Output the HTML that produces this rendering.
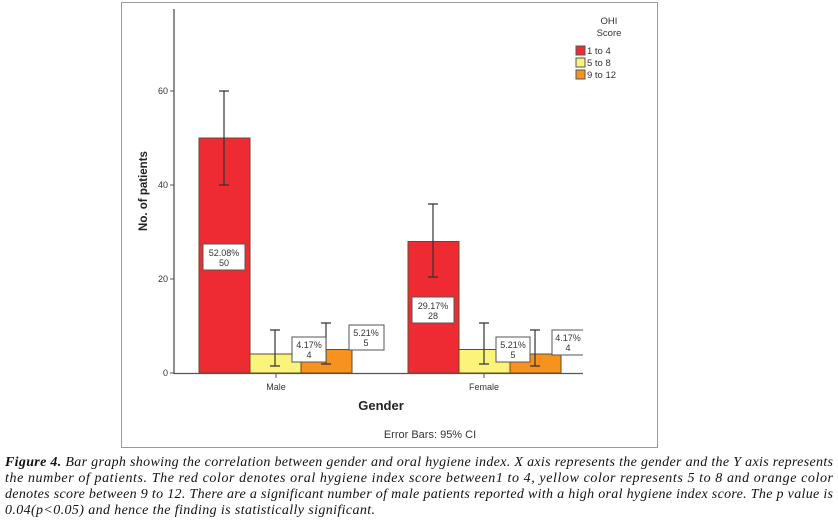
<!DOCTYPE html>
<html><head><style>
body{margin:0;background:#fff;width:838px;height:521px;overflow:hidden;position:relative;font-family:"Liberation Sans",sans-serif}
</style></head><body>
<svg width="838" height="521" style="position:absolute;left:0;top:0" font-family="Liberation Sans, sans-serif">
<rect x="121.5" y="2.5" width="536" height="445" fill="#fff" stroke="#999"/>
<line x1="174" y1="9" x2="174" y2="374" stroke="#555" stroke-width="1.3"/>
<line x1="174" y1="373.5" x2="583" y2="373.5" stroke="#555" stroke-width="1.3"/>
<g font-size="9" fill="#333" text-anchor="end">
<text x="168" y="94">60</text><text x="168" y="188">40</text><text x="168" y="282">20</text><text x="168" y="376">0</text>
</g>
<g stroke="#555"><line x1="170" y1="91" x2="174" y2="91"/><line x1="170" y1="185" x2="174" y2="185"/><line x1="170" y1="279" x2="174" y2="279"/><line x1="170" y1="373" x2="174" y2="373"/>
<line x1="276" y1="373" x2="276" y2="378"/><line x1="484" y1="373" x2="484" y2="378"/></g>
<g stroke="#6a4a2a" stroke-width="1">
<rect x="199" y="138" width="51" height="235" fill="#ee2a32"/>
<rect x="250" y="354" width="51" height="19" fill="#fbf47a"/>
<rect x="301" y="349.5" width="51" height="23.5" fill="#f7921e"/>
<rect x="408" y="241.5" width="51" height="131.5" fill="#ee2a32"/>
<rect x="459" y="349.5" width="51" height="23.5" fill="#fbf47a"/>
<rect x="510" y="354" width="51" height="19" fill="#f7921e"/>
</g>
<g stroke="#333" stroke-width="1.2" fill="none">
<path d="M224 91V185M219 91H229M219 185H229"/>
<path d="M275 330V366M270 330H280M270 366H280"/>
<path d="M326 323V364M321 323H331M321 364H331"/>
<path d="M433 204V277M428 204H438M428 277H438"/>
<path d="M484 323V364M479 323H489M479 364H489"/>
<path d="M535 330V366M530 330H540M530 366H540"/>
</g>
<g stroke="#555" fill="#fff"><rect x="203" y="244" width="42" height="26"/><rect x="292" y="337" width="34" height="25"/><rect x="349" y="325" width="35" height="25"/><rect x="412" y="297" width="42" height="26"/><rect x="496" y="337" width="34" height="25"/><path d="M583 330H552V355H583"/></g>
<g font-size="9" fill="#333" text-anchor="middle">
<text x="224" y="256">52.08%</text><text x="224" y="266">50</text>
<text x="309" y="348">4.17%</text><text x="309" y="358">4</text>
<text x="366" y="336">5.21%</text><text x="366" y="346">5</text>
<text x="433" y="309">29.17%</text><text x="433" y="319">28</text>
<text x="513" y="348">5.21%</text><text x="513" y="358">5</text>
<text x="568" y="341">4.17%</text><text x="568" y="351">4</text>
<text x="276" y="390">Male</text><text x="484" y="390">Female</text>
</g>
<text x="381" y="410" font-size="13" font-weight="bold" text-anchor="middle" fill="#222">Gender</text>
<text x="430" y="438" font-size="11" text-anchor="middle" fill="#333">Error Bars: 95% CI</text>
<text transform="translate(147,191) rotate(-90)" font-size="11.5" font-weight="bold" text-anchor="middle" fill="#222">No. of patients</text>
<g font-size="9.5" fill="#333"><text x="609" y="24" text-anchor="middle">OHI</text><text x="609" y="36" text-anchor="middle">Score</text>
<text x="587" y="54">1 to 4</text><text x="587" y="66">5 to 8</text><text x="587" y="78">9 to 12</text></g>
<g stroke="#555"><rect x="576" y="46" width="9" height="9" fill="#ee2a32"/><rect x="576" y="58" width="9" height="9" fill="#fbf47a"/><rect x="576" y="70" width="9" height="9" fill="#f7921e"/></g>
<g font-family="Liberation Serif, serif" font-style="italic" font-size="14" fill="#111">
<text x="5" y="466" textLength="828" lengthAdjust="spacing"><tspan font-weight="bold">Figure 4.</tspan> Bar graph showing the correlation between gender and oral hygiene index. X axis represents the gender and the Y axis represents</text>
<text x="5" y="482" textLength="828" lengthAdjust="spacing">the number of patients. The red color denotes oral hygiene index score between1 to 4, yellow color represents 5 to 8 and orange color</text>
<text x="5" y="498" textLength="828" lengthAdjust="spacing">denotes score between 9 to 12. There are a significant number of male patients reported with a high oral hygiene index score. The p value is</text>
<text x="5" y="514" textLength="370" lengthAdjust="spacing">0.04(p&lt;0.05) and hence the finding is statistically significant.</text>
</g>
</svg>
</body></html>
